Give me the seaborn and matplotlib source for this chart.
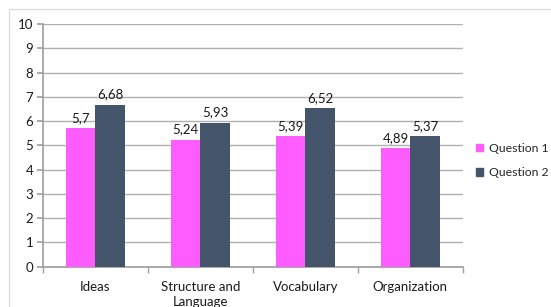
import matplotlib
matplotlib.use("Agg")
import matplotlib.pyplot as plt
import seaborn as sns
import pandas as pd
from matplotlib.patches import Rectangle

categories = ["Ideas", "Structure and\nLanguage", "Vocabulary", "Organization"]
series_names = ["Question 1", "Question 2"]
q1 = [5.7, 5.24, 5.39, 4.89]
q2 = [6.68, 5.93, 6.52, 5.37]
yticks = list(range(0, 11))

df = pd.DataFrame({
    "category": categories * 2,
    "series": [series_names[0]] * 4 + [series_names[1]] * 4,
    "value": q1 + q2,
})

sns.set_theme(style="white")
plt.rcParams["font.family"] = ["Lato", "DejaVu Sans"]

fig = plt.figure(figsize=(5.51, 3.07), dpi=100)
ax = fig.add_axes([0.078, 0.131, 0.762, 0.791])

palette = {"Question 1": "#FF5CFF", "Question 2": "#44546A"}
sns.barplot(data=df, x="category", y="value", hue="series", order=categories,
            hue_order=series_names, palette=palette, width=0.56, saturation=1,
            ax=ax, legend=False, zorder=3, linewidth=0)

fs = 9.5
ax.set_ylim(0, 10)
ax.set_xlim(-0.5, 3.5)
ax.set_yticks(yticks)
ax.set_yticklabels([str(t) for t in yticks], fontsize=fs, color="#1A1A1A")
ax.set_xlabel("")
ax.set_ylabel("")
ax.yaxis.grid(True, color="#B0B0B0", linewidth=1.0, zorder=0)
ax.set_axisbelow(True)
for s in ["top", "right"]:
    ax.spines[s].set_visible(False)
ax.spines["left"].set_color("#A0A0A0")
ax.spines["bottom"].set_color("#A0A0A0")
ax.tick_params(axis="y", which="major", length=4, color="#A0A0A0", direction="out", left=True, pad=3)
ax.tick_params(axis="x", which="major", length=0, labelsize=fs, labelcolor="#1A1A1A", pad=10)
for lbl in ax.get_xticklabels():
    lbl.set_linespacing(1.35)
ax.set_xticks([-0.5, 0.5, 1.5, 2.5, 3.5], minor=True)
ax.tick_params(axis="x", which="minor", length=4, color="#A0A0A0", direction="out", bottom=True)

for cont in ax.containers:
    labels = [f"{v:g}".replace(".", ",") for v in cont.datavalues]
    ax.bar_label(cont, labels=labels, fontsize=fs, color="#1A1A1A", padding=3)

handles = [Rectangle((0, 0), 1, 1, color=palette[s]) for s in series_names]
fig.legend(handles, series_names, loc="center left", bbox_to_anchor=(0.846, 0.477),
           frameon=False, fontsize=8.8, handlelength=0.6, handleheight=0.6,
           handletextpad=0.45, labelspacing=1.1, borderpad=0.3)

fig.patches.append(Rectangle((9 / 551, -0.05), 1.0, 1 - 9 / 307 + 0.05,
                             transform=fig.transFigure, fill=False,
                             edgecolor="#D9D9D9", linewidth=0.8))

fig.savefig("out.png", dpi=100, facecolor="white")
